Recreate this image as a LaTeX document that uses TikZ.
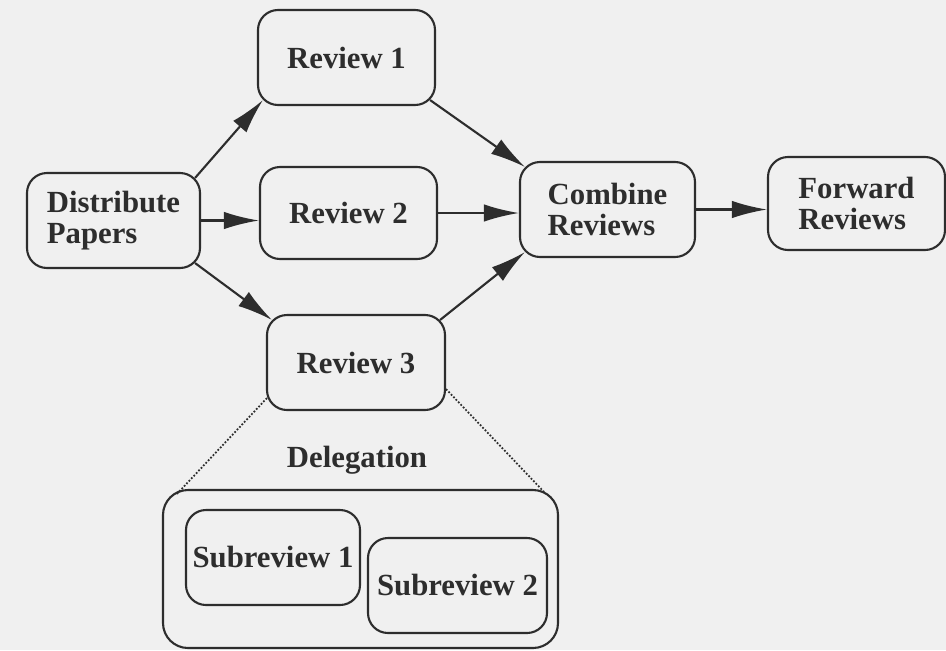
\documentclass[tikz,border=0pt]{standalone}
\usepackage{fontspec}
\setmainfont{Liberation Serif}
\usetikzlibrary{arrows.meta,calc}
\definecolor{paper}{RGB}{240,240,240}
\definecolor{ink}{RGB}{45,45,45}
\begin{document}
\begin{tikzpicture}[x=0.02cm,y=-0.02cm,
  label font/.style={font=\fontsize{17.5}{18}\selectfont\bfseries},
  box/.style={draw=ink,line width=1.2pt,rounded corners=0.4cm,inner sep=0pt,
    align=left,text=ink,label font},
  sz/.style 2 args={minimum width={#1*0.02cm},minimum height={#2*0.02cm}},
  arr/.style={draw=ink,line width=1.2pt,-{Latex[length=20pt,width=10pt]}},
  link/.style={draw=ink,line width=1pt,densely dotted}]
% page
\fill[paper] (0,0) rectangle (946,650);
\useasboundingbox (0,0) rectangle (946,650);

% main workflow
\node[box,sz={173}{95}] (d)  at (113.5,220.5) {Distribute\\Papers};
\node[box,sz={177}{95}] (r1) at (346.5,57.5)  {Review 1};
\node[box,sz={177}{92}] (r2) at (348.5,213)   {Review 2};
\node[box,sz={178}{95}] (r3) at (356,362.5)   {Review 3};
\node[box,sz={175}{95}] (c)  at (607.5,209.5) {Combine\\Reviews};
\node[box,sz={177}{93}] (f)  at (856.5,203.5) {Forward\\Reviews};

% delegated sub-workflow
\node[text=ink,label font,anchor=base] (dl) at (357,467) {Delegation};
\node[box,sz={395}{158},rounded corners=0.5cm] (g) at (360.5,569) {};
\node[box,sz={174}{95}] (s1) at (273,557.5) {Subreview 1};
\node[box,sz={179}{95}] (s2) at (457.5,585.5) {Subreview 2};

% flow arrows
\draw[arr] ([shift={(-6,6)}]d.north east) -- ([shift={(6,-6)}]r1.south west);
\draw[arr] (d.east) -- (d.east -| r2.west);
\draw[arr] ([shift={(-6,-6)}]d.south east) -- ([shift={(6,6)}]r3.north west);
\draw[arr] ([shift={(-6,-6)}]r1.south east) -- ([shift={(6,6)}]c.north west);
\draw[arr] (r2.east) -- (r2.east -| c.west);
\draw[arr] ([shift={(-6,6)}]r3.north east) -- ([shift={(6,-6)}]c.south west);
\draw[arr] (c.east) -- (c.east -| f.west);

% delegation links
\draw[link] ([shift={(1,-13)}]r3.south west) -- ([shift={(15,5)}]g.north west);
\draw[link] ([shift={(0,-22)}]r3.south east) -- ([shift={(-15,3)}]g.north east);
\end{tikzpicture}
\end{document}
